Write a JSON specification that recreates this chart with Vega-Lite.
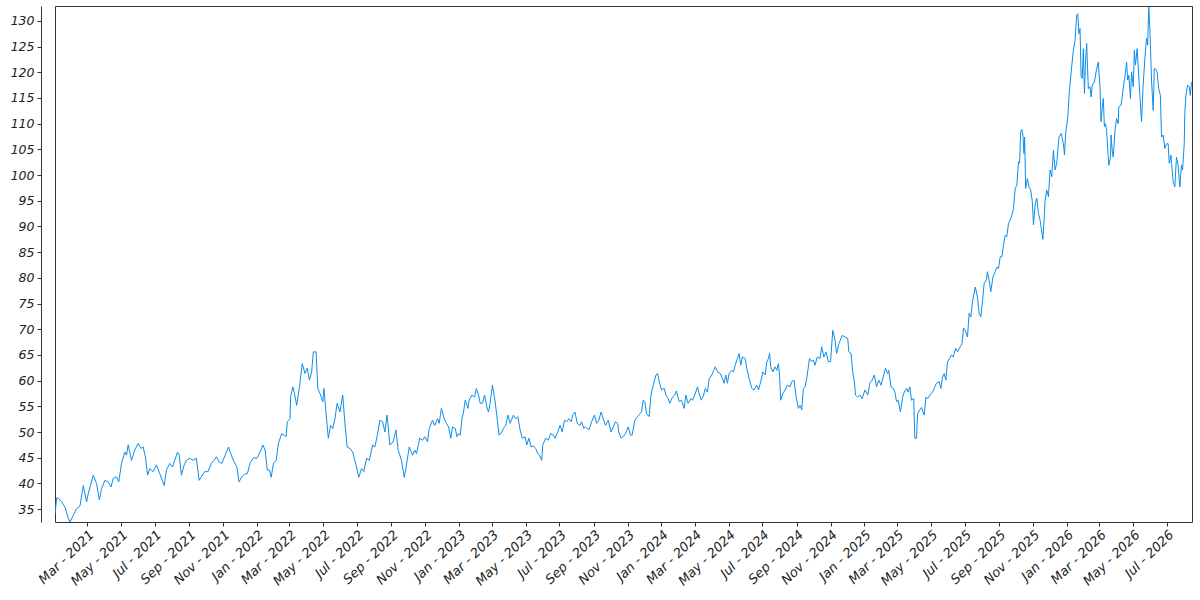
{
  "$schema": "https://vega.github.io/schema/vega-lite/v6.json",
  "autosize": {"type": "none"},
  "padding": {"left": 55, "top": 6, "right": 8, "bottom": 78},
  "width": 1137,
  "height": 516,
  "background": "white",
  "config": {
    "view": {"stroke": "#333333", "strokeWidth": 1},
    "axis": {
      "grid": false,
      "domainColor": "#333333",
      "tickColor": "#333333",
      "labelColor": "#222222",
      "labelFont": "DejaVu Sans",
      "labelFontStyle": "italic",
      "labelFontSize": 12.5,
      "title": null
    }
  },
  "data": {
    "values": [
      {"date": "2021-01-02", "value": 34.0},
      {"date": "2021-01-05", "value": 37.2},
      {"date": "2021-01-08", "value": 37.1},
      {"date": "2021-01-14", "value": 36.4},
      {"date": "2021-01-20", "value": 35.4},
      {"date": "2021-01-26", "value": 33.2},
      {"date": "2021-01-29", "value": 32.5},
      {"date": "2021-02-04", "value": 33.8},
      {"date": "2021-02-10", "value": 35.1},
      {"date": "2021-02-16", "value": 35.6},
      {"date": "2021-02-22", "value": 39.6},
      {"date": "2021-02-28", "value": 36.4},
      {"date": "2021-03-03", "value": 38.0},
      {"date": "2021-03-12", "value": 41.6},
      {"date": "2021-03-18", "value": 40.0},
      {"date": "2021-03-23", "value": 36.8},
      {"date": "2021-03-27", "value": 39.0},
      {"date": "2021-04-02", "value": 40.6},
      {"date": "2021-04-08", "value": 40.3},
      {"date": "2021-04-13", "value": 39.3},
      {"date": "2021-04-17", "value": 41.0},
      {"date": "2021-04-23", "value": 41.3},
      {"date": "2021-04-27", "value": 40.3},
      {"date": "2021-05-02", "value": 43.9},
      {"date": "2021-05-08", "value": 46.1},
      {"date": "2021-05-11", "value": 45.5},
      {"date": "2021-05-14", "value": 47.5},
      {"date": "2021-05-20", "value": 44.5},
      {"date": "2021-05-26", "value": 46.5},
      {"date": "2021-06-01", "value": 47.8},
      {"date": "2021-06-06", "value": 46.8},
      {"date": "2021-06-10", "value": 47.1},
      {"date": "2021-06-14", "value": 45.2},
      {"date": "2021-06-18", "value": 41.6},
      {"date": "2021-06-22", "value": 42.9},
      {"date": "2021-06-28", "value": 42.3},
      {"date": "2021-07-04", "value": 43.6},
      {"date": "2021-07-10", "value": 41.9},
      {"date": "2021-07-18", "value": 39.6},
      {"date": "2021-07-22", "value": 42.6},
      {"date": "2021-07-28", "value": 43.9},
      {"date": "2021-08-02", "value": 43.2},
      {"date": "2021-08-06", "value": 44.5},
      {"date": "2021-08-11", "value": 46.1},
      {"date": "2021-08-14", "value": 45.5},
      {"date": "2021-08-18", "value": 41.6},
      {"date": "2021-08-23", "value": 43.6},
      {"date": "2021-08-27", "value": 44.5},
      {"date": "2021-09-02", "value": 44.9},
      {"date": "2021-09-08", "value": 44.5},
      {"date": "2021-09-14", "value": 44.9},
      {"date": "2021-09-19", "value": 40.6},
      {"date": "2021-09-23", "value": 41.3},
      {"date": "2021-09-29", "value": 42.3},
      {"date": "2021-10-05", "value": 42.3},
      {"date": "2021-10-11", "value": 43.9},
      {"date": "2021-10-16", "value": 44.5},
      {"date": "2021-10-20", "value": 45.2},
      {"date": "2021-10-25", "value": 44.2},
      {"date": "2021-10-30", "value": 43.9},
      {"date": "2021-11-05", "value": 45.5},
      {"date": "2021-11-11", "value": 47.1},
      {"date": "2021-11-15", "value": 45.8},
      {"date": "2021-11-21", "value": 44.2},
      {"date": "2021-11-26", "value": 43.2},
      {"date": "2021-11-30", "value": 40.3},
      {"date": "2021-12-05", "value": 41.3},
      {"date": "2021-12-11", "value": 41.9},
      {"date": "2021-12-15", "value": 41.9},
      {"date": "2021-12-20", "value": 44.0},
      {"date": "2021-12-26", "value": 45.0},
      {"date": "2022-01-01", "value": 44.9},
      {"date": "2022-01-07", "value": 46.1},
      {"date": "2022-01-12", "value": 47.5},
      {"date": "2022-01-16", "value": 46.5},
      {"date": "2022-01-20", "value": 42.6},
      {"date": "2022-01-24", "value": 42.6},
      {"date": "2022-01-27", "value": 41.2},
      {"date": "2022-01-31", "value": 43.9},
      {"date": "2022-02-05", "value": 44.5},
      {"date": "2022-02-09", "value": 47.8},
      {"date": "2022-02-15", "value": 49.7},
      {"date": "2022-02-23", "value": 49.1},
      {"date": "2022-02-25", "value": 52.0},
      {"date": "2022-03-02", "value": 52.6},
      {"date": "2022-03-03", "value": 56.8},
      {"date": "2022-03-07", "value": 58.8},
      {"date": "2022-03-10", "value": 57.5},
      {"date": "2022-03-14", "value": 55.2},
      {"date": "2022-03-19", "value": 58.8},
      {"date": "2022-03-24", "value": 63.3},
      {"date": "2022-03-29", "value": 61.4},
      {"date": "2022-04-02", "value": 62.4},
      {"date": "2022-04-06", "value": 60.1},
      {"date": "2022-04-10", "value": 61.7},
      {"date": "2022-04-13", "value": 65.6},
      {"date": "2022-04-18", "value": 65.6},
      {"date": "2022-04-21", "value": 58.5},
      {"date": "2022-04-25", "value": 57.5},
      {"date": "2022-04-30", "value": 55.9},
      {"date": "2022-05-02", "value": 58.5},
      {"date": "2022-05-06", "value": 53.6},
      {"date": "2022-05-10", "value": 48.8},
      {"date": "2022-05-14", "value": 51.3},
      {"date": "2022-05-18", "value": 50.7},
      {"date": "2022-05-22", "value": 52.6},
      {"date": "2022-05-26", "value": 55.6},
      {"date": "2022-05-31", "value": 53.9},
      {"date": "2022-06-05", "value": 57.2},
      {"date": "2022-06-09", "value": 51.7},
      {"date": "2022-06-13", "value": 47.1},
      {"date": "2022-06-18", "value": 46.8},
      {"date": "2022-06-23", "value": 46.1},
      {"date": "2022-06-29", "value": 43.6},
      {"date": "2022-07-04", "value": 41.2},
      {"date": "2022-07-09", "value": 42.9},
      {"date": "2022-07-13", "value": 42.3},
      {"date": "2022-07-18", "value": 44.9},
      {"date": "2022-07-23", "value": 44.5},
      {"date": "2022-07-29", "value": 47.5},
      {"date": "2022-08-02", "value": 47.1},
      {"date": "2022-08-06", "value": 49.1},
      {"date": "2022-08-11", "value": 52.3},
      {"date": "2022-08-16", "value": 52.0},
      {"date": "2022-08-20", "value": 50.0},
      {"date": "2022-08-24", "value": 53.3},
      {"date": "2022-08-29", "value": 47.5},
      {"date": "2022-09-04", "value": 48.1},
      {"date": "2022-09-09", "value": 50.4},
      {"date": "2022-09-13", "value": 46.5},
      {"date": "2022-09-19", "value": 44.5},
      {"date": "2022-09-24", "value": 41.2},
      {"date": "2022-09-27", "value": 42.9},
      {"date": "2022-10-03", "value": 47.1},
      {"date": "2022-10-09", "value": 45.5},
      {"date": "2022-10-13", "value": 46.5},
      {"date": "2022-10-16", "value": 45.8},
      {"date": "2022-10-22", "value": 48.8},
      {"date": "2022-10-27", "value": 48.4},
      {"date": "2022-10-31", "value": 49.1},
      {"date": "2022-11-05", "value": 48.1},
      {"date": "2022-11-08", "value": 50.7},
      {"date": "2022-11-14", "value": 52.3},
      {"date": "2022-11-18", "value": 51.3},
      {"date": "2022-11-23", "value": 52.6},
      {"date": "2022-11-26", "value": 51.7},
      {"date": "2022-11-30", "value": 54.6},
      {"date": "2022-12-05", "value": 52.6},
      {"date": "2022-12-09", "value": 51.7},
      {"date": "2022-12-13", "value": 51.0},
      {"date": "2022-12-17", "value": 48.8},
      {"date": "2022-12-20", "value": 51.0},
      {"date": "2022-12-25", "value": 50.7},
      {"date": "2022-12-28", "value": 49.1},
      {"date": "2022-12-31", "value": 49.7},
      {"date": "2023-01-03", "value": 49.4},
      {"date": "2023-01-06", "value": 52.6},
      {"date": "2023-01-09", "value": 53.9},
      {"date": "2023-01-12", "value": 56.2},
      {"date": "2023-01-17", "value": 54.6},
      {"date": "2023-01-19", "value": 56.2},
      {"date": "2023-01-24", "value": 57.2},
      {"date": "2023-01-29", "value": 56.8},
      {"date": "2023-02-01", "value": 58.5},
      {"date": "2023-02-05", "value": 57.2},
      {"date": "2023-02-08", "value": 55.6},
      {"date": "2023-02-12", "value": 55.6},
      {"date": "2023-02-16", "value": 57.2},
      {"date": "2023-02-20", "value": 54.9},
      {"date": "2023-02-23", "value": 53.9},
      {"date": "2023-02-26", "value": 55.6},
      {"date": "2023-03-02", "value": 59.1},
      {"date": "2023-03-07", "value": 55.9},
      {"date": "2023-03-11", "value": 52.3},
      {"date": "2023-03-14", "value": 49.4},
      {"date": "2023-03-19", "value": 50.0},
      {"date": "2023-03-22", "value": 50.7},
      {"date": "2023-03-26", "value": 51.3},
      {"date": "2023-03-30", "value": 53.3},
      {"date": "2023-04-03", "value": 51.7},
      {"date": "2023-04-09", "value": 53.3},
      {"date": "2023-04-13", "value": 52.6},
      {"date": "2023-04-17", "value": 53.0},
      {"date": "2023-04-21", "value": 50.4},
      {"date": "2023-04-25", "value": 48.8},
      {"date": "2023-04-30", "value": 49.1},
      {"date": "2023-05-03", "value": 47.5},
      {"date": "2023-05-07", "value": 48.8},
      {"date": "2023-05-11", "value": 47.1},
      {"date": "2023-05-15", "value": 47.3},
      {"date": "2023-05-19", "value": 46.8},
      {"date": "2023-05-23", "value": 45.8},
      {"date": "2023-05-26", "value": 45.5},
      {"date": "2023-05-30", "value": 44.5},
      {"date": "2023-06-01", "value": 47.5},
      {"date": "2023-06-06", "value": 48.8},
      {"date": "2023-06-11", "value": 48.4},
      {"date": "2023-06-15", "value": 49.7},
      {"date": "2023-06-20", "value": 49.4},
      {"date": "2023-06-23", "value": 48.8},
      {"date": "2023-06-28", "value": 50.0},
      {"date": "2023-07-02", "value": 51.3},
      {"date": "2023-07-06", "value": 50.0},
      {"date": "2023-07-10", "value": 52.3},
      {"date": "2023-07-14", "value": 52.0},
      {"date": "2023-07-18", "value": 52.6},
      {"date": "2023-07-22", "value": 52.0},
      {"date": "2023-07-25", "value": 53.3},
      {"date": "2023-07-29", "value": 53.9},
      {"date": "2023-08-02", "value": 51.7},
      {"date": "2023-08-07", "value": 51.3},
      {"date": "2023-08-10", "value": 52.0},
      {"date": "2023-08-14", "value": 50.7},
      {"date": "2023-08-17", "value": 51.0},
      {"date": "2023-08-23", "value": 50.4},
      {"date": "2023-08-28", "value": 52.0},
      {"date": "2023-09-02", "value": 53.3},
      {"date": "2023-09-06", "value": 51.7},
      {"date": "2023-09-10", "value": 52.3},
      {"date": "2023-09-14", "value": 53.9},
      {"date": "2023-09-18", "value": 52.6},
      {"date": "2023-09-22", "value": 51.3},
      {"date": "2023-09-27", "value": 52.3},
      {"date": "2023-10-02", "value": 50.0},
      {"date": "2023-10-06", "value": 51.0},
      {"date": "2023-10-10", "value": 52.0},
      {"date": "2023-10-14", "value": 51.7},
      {"date": "2023-10-16", "value": 50.0},
      {"date": "2023-10-20", "value": 48.8},
      {"date": "2023-10-24", "value": 49.1},
      {"date": "2023-10-28", "value": 49.7},
      {"date": "2023-11-02", "value": 51.0},
      {"date": "2023-11-06", "value": 49.4},
      {"date": "2023-11-09", "value": 49.4},
      {"date": "2023-11-14", "value": 52.3},
      {"date": "2023-11-19", "value": 53.0},
      {"date": "2023-11-23", "value": 53.6},
      {"date": "2023-11-26", "value": 53.9},
      {"date": "2023-11-29", "value": 56.2},
      {"date": "2023-12-02", "value": 55.9},
      {"date": "2023-12-05", "value": 53.6},
      {"date": "2023-12-10", "value": 53.0},
      {"date": "2023-12-13", "value": 57.2},
      {"date": "2023-12-17", "value": 59.1},
      {"date": "2023-12-22", "value": 61.1},
      {"date": "2023-12-25", "value": 61.4},
      {"date": "2023-12-28", "value": 59.8},
      {"date": "2024-01-01", "value": 58.2},
      {"date": "2024-01-06", "value": 58.5},
      {"date": "2024-01-09", "value": 57.2},
      {"date": "2024-01-13", "value": 56.5},
      {"date": "2024-01-16", "value": 55.6},
      {"date": "2024-01-21", "value": 56.8},
      {"date": "2024-01-25", "value": 57.2},
      {"date": "2024-01-28", "value": 58.0},
      {"date": "2024-02-02", "value": 55.9},
      {"date": "2024-02-06", "value": 56.2},
      {"date": "2024-02-11", "value": 54.6},
      {"date": "2024-02-14", "value": 57.2},
      {"date": "2024-02-18", "value": 55.6},
      {"date": "2024-02-23", "value": 56.5},
      {"date": "2024-02-26", "value": 56.2},
      {"date": "2024-03-01", "value": 57.2},
      {"date": "2024-03-06", "value": 58.8},
      {"date": "2024-03-09", "value": 57.5},
      {"date": "2024-03-13", "value": 56.2},
      {"date": "2024-03-17", "value": 57.2},
      {"date": "2024-03-20", "value": 58.5},
      {"date": "2024-03-24", "value": 57.8},
      {"date": "2024-03-27", "value": 60.4},
      {"date": "2024-04-01", "value": 61.1},
      {"date": "2024-04-04", "value": 62.0},
      {"date": "2024-04-07", "value": 62.7},
      {"date": "2024-04-11", "value": 61.7},
      {"date": "2024-04-16", "value": 61.4},
      {"date": "2024-04-20", "value": 60.4},
      {"date": "2024-04-23", "value": 59.5},
      {"date": "2024-04-26", "value": 61.1},
      {"date": "2024-04-29", "value": 59.5},
      {"date": "2024-05-02", "value": 61.4},
      {"date": "2024-05-07", "value": 62.0},
      {"date": "2024-05-10", "value": 61.7},
      {"date": "2024-05-13", "value": 63.0},
      {"date": "2024-05-17", "value": 64.3},
      {"date": "2024-05-20", "value": 65.3},
      {"date": "2024-05-23", "value": 63.0},
      {"date": "2024-05-26", "value": 64.6},
      {"date": "2024-05-31", "value": 64.3},
      {"date": "2024-06-03", "value": 62.4},
      {"date": "2024-06-07", "value": 60.4},
      {"date": "2024-06-12", "value": 58.5},
      {"date": "2024-06-16", "value": 58.2},
      {"date": "2024-06-21", "value": 59.1},
      {"date": "2024-06-24", "value": 58.2},
      {"date": "2024-06-28", "value": 59.8},
      {"date": "2024-07-02", "value": 61.7},
      {"date": "2024-07-06", "value": 61.1},
      {"date": "2024-07-09", "value": 63.7},
      {"date": "2024-07-12", "value": 64.3},
      {"date": "2024-07-14", "value": 65.3},
      {"date": "2024-07-16", "value": 62.7},
      {"date": "2024-07-20", "value": 61.7},
      {"date": "2024-07-24", "value": 62.7},
      {"date": "2024-07-27", "value": 62.0},
      {"date": "2024-07-30", "value": 63.3},
      {"date": "2024-08-01", "value": 61.1},
      {"date": "2024-08-03", "value": 56.2},
      {"date": "2024-08-07", "value": 57.5},
      {"date": "2024-08-11", "value": 58.2},
      {"date": "2024-08-15", "value": 59.1},
      {"date": "2024-08-20", "value": 58.8},
      {"date": "2024-08-23", "value": 59.8},
      {"date": "2024-08-27", "value": 60.1},
      {"date": "2024-08-31", "value": 56.8},
      {"date": "2024-09-04", "value": 54.6},
      {"date": "2024-09-07", "value": 55.2},
      {"date": "2024-09-10", "value": 54.3},
      {"date": "2024-09-13", "value": 58.5},
      {"date": "2024-09-16", "value": 58.8},
      {"date": "2024-09-19", "value": 60.4},
      {"date": "2024-09-24", "value": 64.3},
      {"date": "2024-09-28", "value": 63.7},
      {"date": "2024-10-01", "value": 64.0},
      {"date": "2024-10-04", "value": 63.0},
      {"date": "2024-10-08", "value": 64.6},
      {"date": "2024-10-13", "value": 64.3},
      {"date": "2024-10-16", "value": 66.6},
      {"date": "2024-10-20", "value": 64.6},
      {"date": "2024-10-24", "value": 65.6},
      {"date": "2024-10-28", "value": 63.7},
      {"date": "2024-11-01", "value": 63.7},
      {"date": "2024-11-05", "value": 69.8},
      {"date": "2024-11-09", "value": 67.9},
      {"date": "2024-11-12", "value": 65.3},
      {"date": "2024-11-16", "value": 67.2},
      {"date": "2024-11-22", "value": 68.8},
      {"date": "2024-11-27", "value": 68.5},
      {"date": "2024-12-02", "value": 68.2},
      {"date": "2024-12-04", "value": 65.6},
      {"date": "2024-12-08", "value": 65.3},
      {"date": "2024-12-11", "value": 61.7},
      {"date": "2024-12-14", "value": 59.8},
      {"date": "2024-12-16", "value": 57.2},
      {"date": "2024-12-20", "value": 56.8},
      {"date": "2024-12-24", "value": 57.2},
      {"date": "2024-12-28", "value": 56.5},
      {"date": "2025-01-02", "value": 58.2},
      {"date": "2025-01-07", "value": 57.2},
      {"date": "2025-01-11", "value": 59.5},
      {"date": "2025-01-15", "value": 60.1},
      {"date": "2025-01-19", "value": 61.1},
      {"date": "2025-01-23", "value": 58.8},
      {"date": "2025-01-27", "value": 60.1},
      {"date": "2025-01-31", "value": 59.1},
      {"date": "2025-02-04", "value": 60.7},
      {"date": "2025-02-08", "value": 62.4},
      {"date": "2025-02-12", "value": 61.4},
      {"date": "2025-02-14", "value": 62.0},
      {"date": "2025-02-18", "value": 58.8},
      {"date": "2025-02-22", "value": 58.5},
      {"date": "2025-02-25", "value": 57.8},
      {"date": "2025-02-28", "value": 55.9},
      {"date": "2025-03-03", "value": 56.2},
      {"date": "2025-03-07", "value": 53.9},
      {"date": "2025-03-11", "value": 56.8},
      {"date": "2025-03-14", "value": 57.8},
      {"date": "2025-03-18", "value": 58.5},
      {"date": "2025-03-21", "value": 57.8},
      {"date": "2025-03-24", "value": 58.8},
      {"date": "2025-03-27", "value": 56.2},
      {"date": "2025-03-31", "value": 56.5},
      {"date": "2025-04-02", "value": 48.8},
      {"date": "2025-04-05", "value": 48.8},
      {"date": "2025-04-07", "value": 53.6},
      {"date": "2025-04-11", "value": 54.3},
      {"date": "2025-04-14", "value": 54.8},
      {"date": "2025-04-19", "value": 53.3},
      {"date": "2025-04-22", "value": 56.8},
      {"date": "2025-04-25", "value": 56.5},
      {"date": "2025-04-29", "value": 57.2},
      {"date": "2025-05-04", "value": 57.8},
      {"date": "2025-05-07", "value": 58.5},
      {"date": "2025-05-11", "value": 59.5},
      {"date": "2025-05-16", "value": 59.8},
      {"date": "2025-05-19", "value": 58.5},
      {"date": "2025-05-22", "value": 60.7},
      {"date": "2025-05-25", "value": 61.4},
      {"date": "2025-05-28", "value": 60.1},
      {"date": "2025-05-31", "value": 63.7},
      {"date": "2025-06-04", "value": 64.3},
      {"date": "2025-06-07", "value": 65.0},
      {"date": "2025-06-10", "value": 64.6},
      {"date": "2025-06-15", "value": 66.3},
      {"date": "2025-06-18", "value": 65.6},
      {"date": "2025-06-23", "value": 66.6},
      {"date": "2025-06-26", "value": 67.2},
      {"date": "2025-06-29", "value": 70.2},
      {"date": "2025-07-02", "value": 69.8},
      {"date": "2025-07-06", "value": 68.5},
      {"date": "2025-07-09", "value": 73.1},
      {"date": "2025-07-12", "value": 72.4},
      {"date": "2025-07-15", "value": 75.3},
      {"date": "2025-07-20", "value": 78.2},
      {"date": "2025-07-24", "value": 76.3},
      {"date": "2025-07-27", "value": 73.1},
      {"date": "2025-07-30", "value": 72.4},
      {"date": "2025-08-02", "value": 75.3},
      {"date": "2025-08-05", "value": 78.9},
      {"date": "2025-08-09", "value": 79.6},
      {"date": "2025-08-11", "value": 81.2},
      {"date": "2025-08-15", "value": 78.9},
      {"date": "2025-08-17", "value": 77.3},
      {"date": "2025-08-21", "value": 80.2},
      {"date": "2025-08-25", "value": 81.2},
      {"date": "2025-08-28", "value": 82.1},
      {"date": "2025-08-31", "value": 81.8},
      {"date": "2025-09-03", "value": 84.1},
      {"date": "2025-09-06", "value": 84.1},
      {"date": "2025-09-09", "value": 86.4},
      {"date": "2025-09-12", "value": 88.3},
      {"date": "2025-09-15", "value": 88.0},
      {"date": "2025-09-18", "value": 90.6},
      {"date": "2025-09-21", "value": 91.2},
      {"date": "2025-09-24", "value": 92.2},
      {"date": "2025-09-27", "value": 93.5},
      {"date": "2025-09-30", "value": 97.4},
      {"date": "2025-10-03", "value": 98.0},
      {"date": "2025-10-06", "value": 102.6},
      {"date": "2025-10-08", "value": 102.3},
      {"date": "2025-10-10", "value": 108.4},
      {"date": "2025-10-12", "value": 108.9},
      {"date": "2025-10-14", "value": 107.8},
      {"date": "2025-10-16", "value": 104.2},
      {"date": "2025-10-17", "value": 107.4},
      {"date": "2025-10-19", "value": 97.4},
      {"date": "2025-10-22", "value": 99.3},
      {"date": "2025-10-25", "value": 97.7},
      {"date": "2025-10-28", "value": 97.1},
      {"date": "2025-10-31", "value": 94.8},
      {"date": "2025-11-02", "value": 90.3},
      {"date": "2025-11-05", "value": 94.2},
      {"date": "2025-11-08", "value": 95.5},
      {"date": "2025-11-11", "value": 92.5},
      {"date": "2025-11-14", "value": 91.2},
      {"date": "2025-11-17", "value": 89.0},
      {"date": "2025-11-19", "value": 87.5},
      {"date": "2025-11-21", "value": 91.0},
      {"date": "2025-11-23", "value": 95.1},
      {"date": "2025-11-26", "value": 97.1},
      {"date": "2025-11-29", "value": 95.8},
      {"date": "2025-12-02", "value": 101.0},
      {"date": "2025-12-05", "value": 99.7},
      {"date": "2025-12-08", "value": 104.8},
      {"date": "2025-12-11", "value": 101.0},
      {"date": "2025-12-14", "value": 102.3},
      {"date": "2025-12-18", "value": 107.4},
      {"date": "2025-12-22", "value": 108.1},
      {"date": "2025-12-26", "value": 106.1},
      {"date": "2025-12-28", "value": 103.9},
      {"date": "2025-12-30", "value": 108.1},
      {"date": "2026-01-03", "value": 111.3},
      {"date": "2026-01-05", "value": 115.2},
      {"date": "2026-01-07", "value": 117.8},
      {"date": "2026-01-10", "value": 121.1},
      {"date": "2026-01-13", "value": 124.3},
      {"date": "2026-01-16", "value": 126.2},
      {"date": "2026-01-19", "value": 131.1},
      {"date": "2026-01-21", "value": 131.4},
      {"date": "2026-01-23", "value": 127.5},
      {"date": "2026-01-25", "value": 128.5},
      {"date": "2026-01-27", "value": 119.1},
      {"date": "2026-01-29", "value": 118.8},
      {"date": "2026-01-31", "value": 124.6},
      {"date": "2026-02-02", "value": 115.9},
      {"date": "2026-02-04", "value": 122.4},
      {"date": "2026-02-06", "value": 125.6},
      {"date": "2026-02-09", "value": 116.8},
      {"date": "2026-02-12", "value": 117.2},
      {"date": "2026-02-14", "value": 115.2},
      {"date": "2026-02-16", "value": 117.5},
      {"date": "2026-02-20", "value": 118.1},
      {"date": "2026-02-23", "value": 120.1},
      {"date": "2026-02-27", "value": 122.0},
      {"date": "2026-03-02", "value": 117.2},
      {"date": "2026-03-04", "value": 110.4},
      {"date": "2026-03-06", "value": 113.0},
      {"date": "2026-03-08", "value": 114.9},
      {"date": "2026-03-10", "value": 109.4},
      {"date": "2026-03-12", "value": 110.0},
      {"date": "2026-03-14", "value": 108.7},
      {"date": "2026-03-16", "value": 104.8},
      {"date": "2026-03-18", "value": 101.9},
      {"date": "2026-03-21", "value": 103.5},
      {"date": "2026-03-22", "value": 107.8},
      {"date": "2026-03-24", "value": 104.8},
      {"date": "2026-03-26", "value": 103.5},
      {"date": "2026-03-29", "value": 108.7},
      {"date": "2026-04-01", "value": 111.0},
      {"date": "2026-04-04", "value": 110.0},
      {"date": "2026-04-05", "value": 113.3},
      {"date": "2026-04-09", "value": 113.6},
      {"date": "2026-04-11", "value": 115.2},
      {"date": "2026-04-14", "value": 117.8},
      {"date": "2026-04-16", "value": 119.1},
      {"date": "2026-04-19", "value": 122.0},
      {"date": "2026-04-21", "value": 118.5},
      {"date": "2026-04-23", "value": 119.4},
      {"date": "2026-04-26", "value": 114.9},
      {"date": "2026-04-28", "value": 120.1},
      {"date": "2026-05-01", "value": 117.2},
      {"date": "2026-05-03", "value": 124.3},
      {"date": "2026-05-05", "value": 121.4},
      {"date": "2026-05-08", "value": 124.6},
      {"date": "2026-05-10", "value": 121.1},
      {"date": "2026-05-13", "value": 115.5},
      {"date": "2026-05-16", "value": 110.4},
      {"date": "2026-05-19", "value": 117.8},
      {"date": "2026-05-22", "value": 122.7},
      {"date": "2026-05-25", "value": 126.6},
      {"date": "2026-05-27", "value": 125.3},
      {"date": "2026-05-29", "value": 132.7},
      {"date": "2026-05-31", "value": 128.5},
      {"date": "2026-06-03", "value": 118.5},
      {"date": "2026-06-06", "value": 112.6},
      {"date": "2026-06-08", "value": 120.7},
      {"date": "2026-06-10", "value": 120.7},
      {"date": "2026-06-13", "value": 120.1},
      {"date": "2026-06-16", "value": 116.8},
      {"date": "2026-06-19", "value": 115.5},
      {"date": "2026-06-21", "value": 107.4},
      {"date": "2026-06-24", "value": 107.8},
      {"date": "2026-06-27", "value": 105.2},
      {"date": "2026-06-30", "value": 106.1},
      {"date": "2026-07-03", "value": 106.1},
      {"date": "2026-07-05", "value": 102.3},
      {"date": "2026-07-08", "value": 103.9},
      {"date": "2026-07-09", "value": 102.3},
      {"date": "2026-07-12", "value": 98.7},
      {"date": "2026-07-15", "value": 97.7},
      {"date": "2026-07-18", "value": 103.5},
      {"date": "2026-07-21", "value": 101.9},
      {"date": "2026-07-24", "value": 97.7},
      {"date": "2026-07-27", "value": 101.9},
      {"date": "2026-07-29", "value": 101.0},
      {"date": "2026-08-01", "value": 106.1},
      {"date": "2026-08-02", "value": 112.0},
      {"date": "2026-08-04", "value": 115.5},
      {"date": "2026-08-07", "value": 117.5},
      {"date": "2026-08-10", "value": 117.2},
      {"date": "2026-08-12", "value": 115.5},
      {"date": "2026-08-14", "value": 118.1}
    ]
  },
  "mark": {"type": "line", "color": "#0d8ee9", "strokeWidth": 1, "clip": true},
  "encoding": {
    "x": {
      "field": "date",
      "type": "temporal",
      "scale": {"domain": ["2021-01-02", "2026-08-15"], "nice": false},
      "axis": {
        "format": "%b - %Y",
        "tickCount": {"interval": "month", "step": 2},
        "labelAngle": -44,
        "labelFontSize": 13,
        "tickSize": 4,
        "labelPadding": 2,
        "domain": false,
        "labelOverlap": false
      }
    },
    "y": {
      "field": "value",
      "type": "quantitative",
      "scale": {"domain": [32.5, 132.9], "nice": false, "zero": false},
      "axis": {
        "values": [35, 40, 45, 50, 55, 60, 65, 70, 75, 80, 85, 90, 95, 100, 105, 110, 115, 120, 125, 130],
        "offset": 14,
        "tickSize": 4,
        "labelPadding": 3
      }
    }
  }
}
